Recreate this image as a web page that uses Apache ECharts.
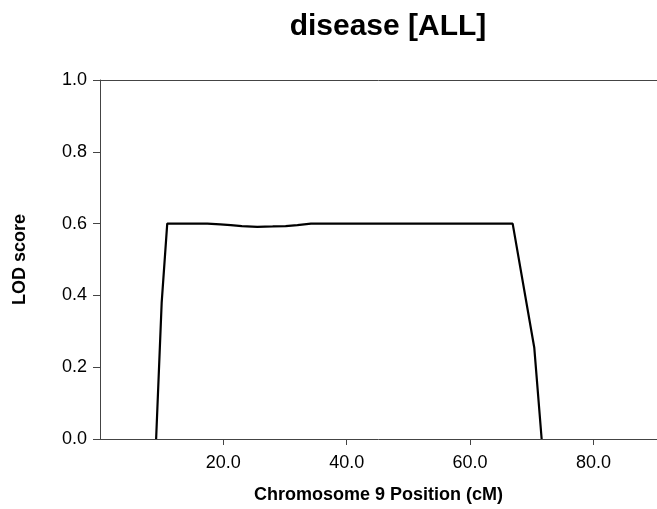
<!DOCTYPE html>
<html>
<head>
<meta charset="utf-8">
<script src="https://cdn.jsdelivr.net/npm/echarts@6/dist/echarts.min.js"></script>
<style>
  html, body { margin: 0; padding: 0; background: #fff; }
  #main { width: 657px; height: 509px; }
</style>
</head>
<body>
<div id="main"></div>
<script>
// position along chromosome 9 (cM) and LOD score
const positions = [9.1, 10.0, 10.9, 17.4, 19.5, 21.2, 23.0, 25.5, 28.0, 30.1, 32.0, 34.2, 40.0, 50.0, 60.0, 66.9, 70.4, 71.6];
const lodScores = [0.0, 0.38, 0.6, 0.6, 0.598, 0.596, 0.593, 0.591, 0.592, 0.593, 0.596, 0.6, 0.6, 0.6, 0.6, 0.6, 0.255, 0.0];
const yTicks = [0, 0.2, 0.4, 0.6, 0.8, 1.0];

const font = "'Liberation Sans', Arial, sans-serif";
const axisColor = "#444";

let chart = echarts.init(document.getElementById("main"));
chart.setOption({
  animation: false,
  title: {
    text: "disease [ALL]",
    left: 383,
    top: 7,
    textAlign: "center",
    textStyle: { fontFamily: font, fontSize: 30, fontWeight: "bold", color: "#000" },
  },
  grid: { left: 100, right: 0, top: 80, bottom: 69 },
  xAxis: [
    {
      type: "value",
      min: 0,
      max: 90.3,
      interval: 20,
      name: "Chromosome 9 Position (cM)",
      nameLocation: "middle",
      nameGap: 47,
      nameTextStyle: { fontFamily: font, fontSize: 18, fontWeight: "bold", color: "#000" },
      axisLine: { lineStyle: { color: axisColor, width: 1 } },
      axisTick: { length: 6, lineStyle: { color: axisColor } },
      axisLabel: {
        showMinLabel: false,
        showMaxLabel: false,
        margin: 15,
        fontFamily: font,
        fontSize: 18,
        color: "#000",
        formatter: (v) => v.toFixed(1),
      },
      splitLine: { show: false },
    },
    {
      // top frame line only
      type: "value",
      position: "top",
      min: 0,
      max: 90.3,
      axisLine: { show: true, onZero: false, lineStyle: { color: axisColor, width: 1 } },
      axisTick: { show: false },
      axisLabel: { show: false },
      splitLine: { show: false },
    },
  ],
  yAxis: {
    type: "value",
    min: yTicks[0],
    max: yTicks[yTicks.length - 1],
    interval: 0.2,
    name: "LOD score",
    nameLocation: "middle",
    nameGap: 71,
    nameTextStyle: { fontFamily: font, fontSize: 18, fontWeight: "bold", color: "#000" },
    axisLine: { show: true, lineStyle: { color: axisColor, width: 1 } },
    axisTick: { show: true, length: 7, lineStyle: { color: axisColor } },
    axisLabel: {
      margin: 13,
      fontFamily: font,
      fontSize: 18,
      color: "#000",
      formatter: (v) => v.toFixed(1),
    },
    splitLine: { show: false },
  },
  series: [
    {
      type: "line",
      data: positions.map((p, i) => [p, lodScores[i]]),
      showSymbol: false,
      lineStyle: { color: "#000", width: 2.2 },
      clip: false,
    },
  ],
});
</script>
</body>
</html>
